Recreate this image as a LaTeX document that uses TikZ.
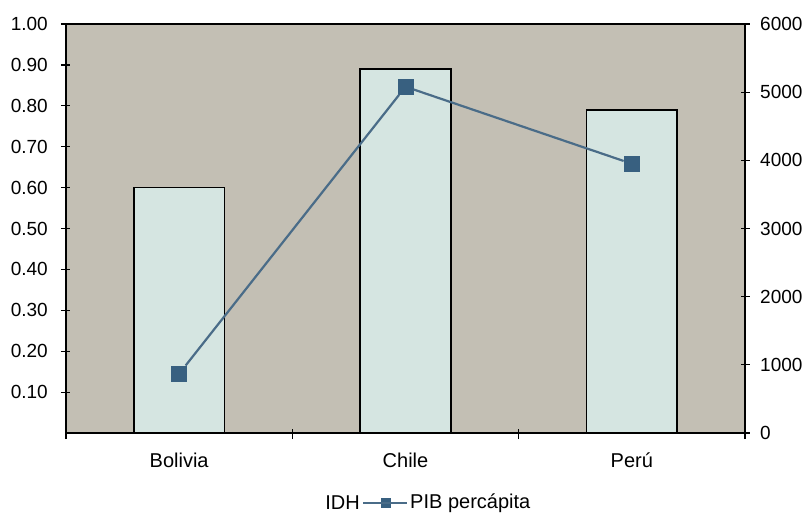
\documentclass[tikz,border=0pt]{standalone}
\usepackage{fontspec}
\setmainfont{Liberation Sans}
\usetikzlibrary{positioning}

\definecolor{plotgray}{RGB}{195,191,180}
\definecolor{barfill}{RGB}{213,229,225}
\definecolor{pibblue}{RGB}{56,96,128}
\definecolor{pibline}{RGB}{74,108,136}

\tikzset{
  axisline/.style={draw=black,line width=1.6pt},
  tickmark/.style={draw=black,line width=1.2pt},
  idhbar/.style={draw=black,line width=1.7pt,fill=barfill},
  pibmark/.style={fill=pibblue,minimum size=16pt,inner sep=0pt},
  keymark/.style={fill=pibblue,minimum size=10pt,inner sep=0pt},
  pibconn/.style={draw=pibline,line width=2.2pt},
  numlabel/.style={font=\fontsize{19}{22}\selectfont,inner sep=0pt},
  catlabel/.style={font=\fontsize{20}{24}\selectfont,inner sep=0pt},
}

\begin{document}
\begin{tikzpicture}[x=226.33pt,y=409pt]
  \useasboundingbox (-0.2916,-0.198) rectangle (3.2651,1.0587);
  \fill[plotgray] (0,0) rectangle (3,1);

  % IDH bars
  \draw[idhbar] (0.3,0) rectangle (0.7,0.60);
  \draw[idhbar] (1.3,0) rectangle (1.7,0.89);
  \draw[idhbar] (2.3,0) rectangle (2.7,0.79);

  % frame and ticks
  \draw[axisline] (0,0) rectangle (3,1);
  \foreach \v/\t in {1/1.00,0.9/0.90,0.8/0.80,0.7/0.70,0.6/0.60,0.5/0.50,0.4/0.40,0.3/0.30,0.2/0.20,0.1/0.10} {
    \draw[tickmark] ([xshift=-5pt]0,\v) -- ([xshift=4pt]0,\v);
    \node[numlabel,anchor=east] (idh\t) at ([xshift=-18pt]0,\v) {\t};
  }
  \foreach \p in {0,1000,...,6000} {
    \draw[tickmark] ([xshift=-4pt]3,\p/6000) -- ([xshift=5pt]3,\p/6000);
    \node[numlabel,anchor=west] (pib\p) at ([xshift=15pt]3,\p/6000) {\p};
  }
  \foreach \c in {0,1,2,3}
    \draw[tickmark] ([yshift=-6pt]\c,0) -- ([yshift=4pt]\c,0);

  % categories
  \node[catlabel] (bolivia) at ([yshift=-27pt]0.5,0) {Bolivia};
  \node[catlabel] (chile) at ([yshift=-27pt]1.5,0) {Chile};
  \node[catlabel] (peru) at ([yshift=-27pt]2.5,0) {Perú};

  % PIB per capita
  \node[pibmark] (bol) at (0.5,870/6000) {};
  \node[pibmark] (chi) at (1.5,5080/6000) {};
  \node[pibmark] (per) at (2.5,3950/6000) {};
  \draw[pibconn] (bol) -- (chi) -- (per);

  % legend
  \node[keymark] (key) at ([yshift=-70pt]1.414,0) {};
  \coordinate (keyl) at ([xshift=-23pt]key.center);
  \coordinate (keyr) at ([xshift=21pt]key.center);
  \draw[pibconn] (keyl) -- (keyr);
  \node[catlabel,left=3pt of keyl] (idhkey) {IDH};
  \node[catlabel,right=3pt of keyr] (pibkey) {PIB percápita};
\end{tikzpicture}
\end{document}
